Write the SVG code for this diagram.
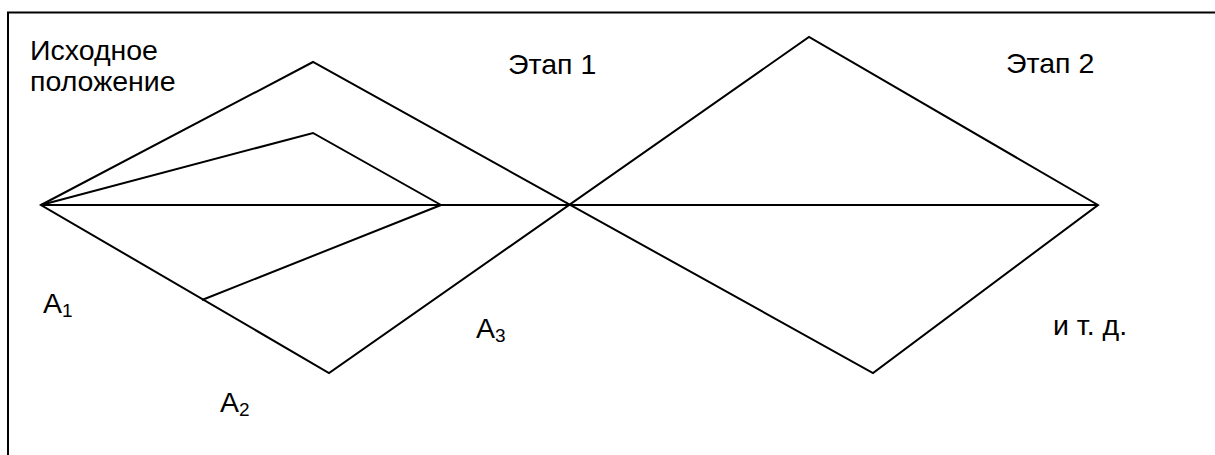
<svg xmlns="http://www.w3.org/2000/svg" width="1215" height="455" viewBox="0 0 1215 455">
<style>
.ln{stroke:#000;stroke-width:2;fill:none;stroke-linejoin:miter}
.t{font-family:"Liberation Sans",Arial,sans-serif;font-size:28.5px;fill:#000}
.s{font-size:19px}
</style>
<rect width="1215" height="455" fill="#fff"/>
<g id="frame">
<path class="ln" d="M8,455 V12.5 H1215"/>
</g>
<g id="connectors">
<path class="ln" d="M41,205 H1098"/>
<path class="ln" d="M41,205 L313,62 L873,373 L1098,205 L809,37 L329,373 Z"/>
<path class="ln" d="M41,205 L313,133 L441,205 L202,300"/>
</g>
<g id="label-start">
<text class="t" x="30" y="60">Исходное</text>
<text class="t" x="30" y="91">положение</text>
</g>
<g id="label-stage1"><text class="t" x="508" y="74">Этап 1</text></g>
<g id="label-stage2"><text class="t" x="1006" y="73">Этап 2</text></g>
<g id="label-a1"><text class="t" x="43" y="313">A<tspan class="s" dy="4">1</tspan></text></g>
<g id="label-a2"><text class="t" x="220" y="412">A<tspan class="s" dy="4">2</tspan></text></g>
<g id="label-a3"><text class="t" x="476" y="338">A<tspan class="s" dy="4">3</tspan></text></g>
<g id="label-etc"><text class="t" x="1053" y="335">и т. д.</text></g>
</svg>
